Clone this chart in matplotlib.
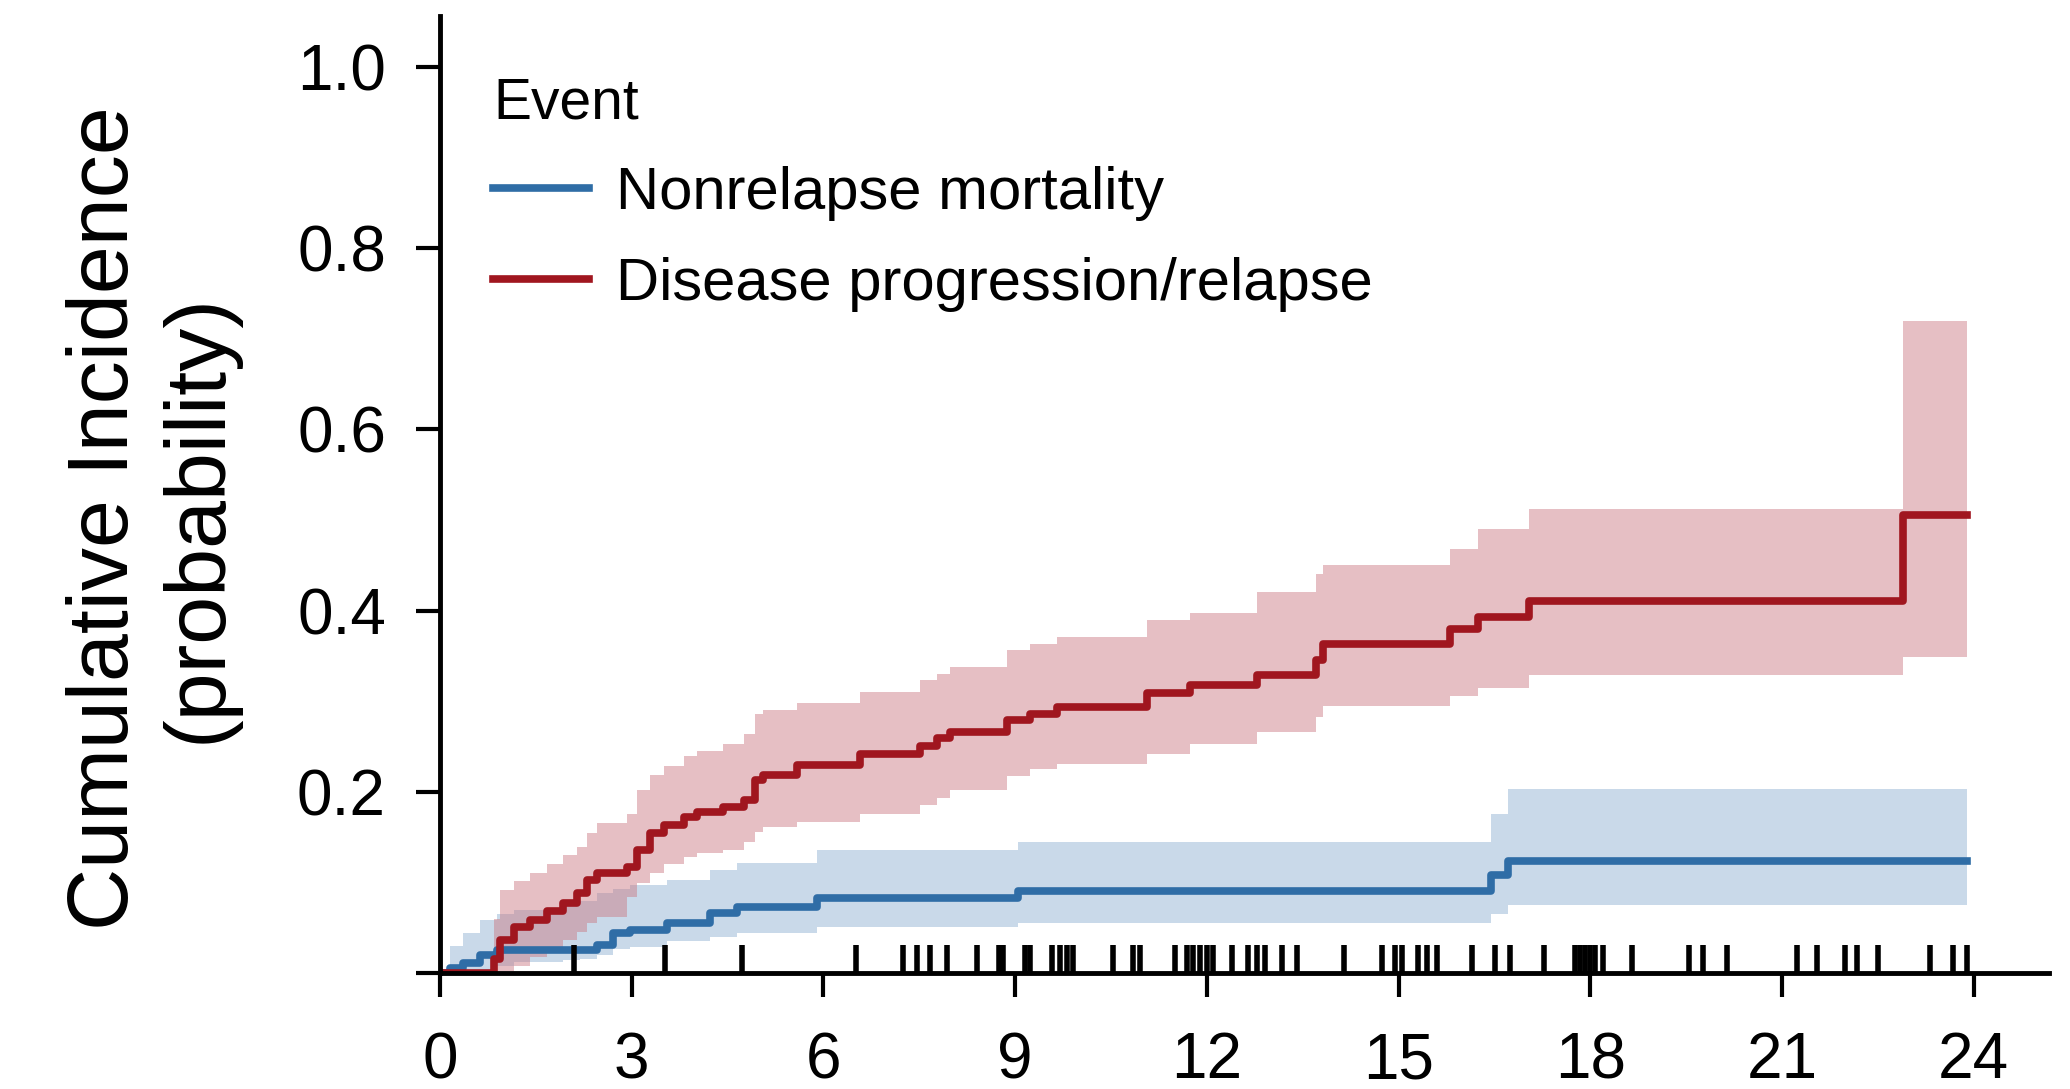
import numpy as np
import matplotlib.pyplot as plt

plt.rcParams['font.family'] = ['Liberation Sans', 'DejaVu Sans']

# Disease progression/relapse: time (months), estimate, lower and upper CI
rel_t = [0, 0.85, 0.94, 1.15, 1.41, 1.67, 1.93, 2.14, 2.30, 2.45, 2.92, 3.08, 3.29,
         3.50, 3.81, 4.02, 4.43, 4.75, 4.93, 5.06, 5.58, 6.57, 7.51, 7.77, 7.98, 8.87,
         9.23, 9.65, 11.06, 11.74, 12.78, 13.70, 13.82, 15.80, 16.24, 17.04, 22.89, 23.89]
rel_est = [0, 0.015, 0.036, 0.051, 0.058, 0.068, 0.077, 0.088, 0.103, 0.110, 0.117, 0.136, 0.154,
           0.163, 0.172, 0.178, 0.183, 0.191, 0.213, 0.218, 0.229, 0.242, 0.250, 0.259, 0.266, 0.279,
           0.286, 0.294, 0.309, 0.318, 0.329, 0.345, 0.363, 0.380, 0.393, 0.411, 0.505, 0.505]
rel_lo = [0, 0.000, 0.002, 0.008, 0.018, 0.027, 0.036, 0.045, 0.055, 0.062, 0.084, 0.099, 0.110,
          0.120, 0.128, 0.132, 0.136, 0.145, 0.156, 0.161, 0.167, 0.176, 0.185, 0.193, 0.202, 0.217,
          0.225, 0.231, 0.242, 0.253, 0.266, 0.283, 0.295, 0.306, 0.315, 0.329, 0.349, 0.349]
rel_hi = [0, 0.060, 0.092, 0.102, 0.110, 0.120, 0.130, 0.139, 0.155, 0.165, 0.176, 0.202, 0.218,
          0.228, 0.239, 0.245, 0.253, 0.264, 0.286, 0.290, 0.298, 0.310, 0.323, 0.330, 0.338, 0.356,
          0.363, 0.371, 0.389, 0.397, 0.420, 0.440, 0.450, 0.468, 0.490, 0.512, 0.720, 0.720]

# Nonrelapse mortality
nrm_t = [0, 0.15, 0.36, 0.63, 0.89, 1.15, 1.93, 2.19, 2.45, 2.71, 2.97, 3.55, 4.23, 4.64,
         5.90, 9.04, 16.45, 16.71, 23.89]
nrm_est = [0, 0.005, 0.011, 0.020, 0.025, 0.025, 0.025, 0.025, 0.031, 0.044, 0.047, 0.055, 0.066, 0.073,
           0.083, 0.091, 0.108, 0.124, 0.124]
nrm_lo = [0, 0, 0, 0.003, 0.008, 0.012, 0.014, 0.016, 0.020, 0.027, 0.029, 0.035, 0.040, 0.044,
          0.051, 0.055, 0.065, 0.075, 0.075]
nrm_hi = [0, 0.030, 0.044, 0.058, 0.065, 0.069, 0.077, 0.080, 0.088, 0.093, 0.097, 0.103, 0.114, 0.121,
          0.136, 0.145, 0.175, 0.203, 0.203]

# censoring times
censor_t = [2.10, 3.52, 4.72, 6.51, 7.25, 7.46, 7.67, 7.93, 8.40, 8.74, 8.81, 9.15, 9.23, 9.57,
            9.70, 9.81, 9.91, 10.53, 10.85, 10.95, 11.50, 11.69, 11.79, 11.89, 12.00, 12.10,
            12.39, 12.65, 12.78, 12.91, 13.17, 13.41, 14.14, 14.74, 14.95, 15.05, 15.31, 15.44,
            15.60, 16.15, 16.51, 16.74, 17.27, 17.76, 17.84, 17.92, 18.00, 18.08, 18.20, 18.66,
            19.54, 19.77, 20.14, 21.24, 21.55, 21.99, 22.17, 22.51, 23.32, 23.68, 23.89]

xticks = [0, 3, 6, 9, 12, 15, 18, 21, 24]
yticks = [0, 0.2, 0.4, 0.6, 0.8, 1.0]
ytick_labels = ['', '0.2', '0.4', '0.6', '0.8', '1.0']

red = '#a0161f'
blue = '#2f6da6'

fig = plt.figure(figsize=(20.7, 10.89), dpi=100)
ax = fig.add_axes([0.2126, 0.1065, 0.7773, 0.8788])

ax.fill_between(nrm_t, nrm_lo, nrm_hi, step='post', color='#7fa6cc', alpha=0.42, lw=0, zorder=1)
ax.fill_between(rel_t, rel_lo, rel_hi, step='post', color='#c9737d', alpha=0.45, lw=0, zorder=2)
ax.step(nrm_t, nrm_est, where='post', color=blue, lw=5.5, label='Nonrelapse mortality', zorder=3)
ax.step(rel_t, rel_est, where='post', color=red, lw=5.5, label='Disease progression/relapse', zorder=4)
ax.vlines(censor_t, 0, 0.031, color='black', lw=4, zorder=5)

ax.set_xlim(0, 25.18)
ax.set_ylim(0, 1.056)
ax.set_xticks(xticks)
ax.set_yticks(yticks)
ax.set_yticklabels(ytick_labels)

for s in ['top', 'right']:
    ax.spines[s].set_visible(False)
for s in ['left', 'bottom']:
    ax.spines[s].set_linewidth(3.5)
    ax.spines[s].set_zorder(6)

ax.tick_params(axis='both', direction='out', length=17, width=3, labelsize=46)
ax.tick_params(axis='y', pad=22)
ax.tick_params(axis='x', pad=25)

ax.text(-0.179, 0.475, 'Cumulative Incidence\n(probability)', transform=ax.transAxes,
        rotation=90, ha='center', va='center', fontsize=62, linespacing=1.2)

leg = ax.legend(title='Event', loc='upper left', bbox_to_anchor=(0.033, 0.937),
                frameon=False, fontsize=43, title_fontsize=41, handlelength=1.6,
                handletextpad=0.45, labelspacing=0.6, borderaxespad=0, borderpad=0,
                alignment='left')

fig.savefig('out.png', dpi=100)
